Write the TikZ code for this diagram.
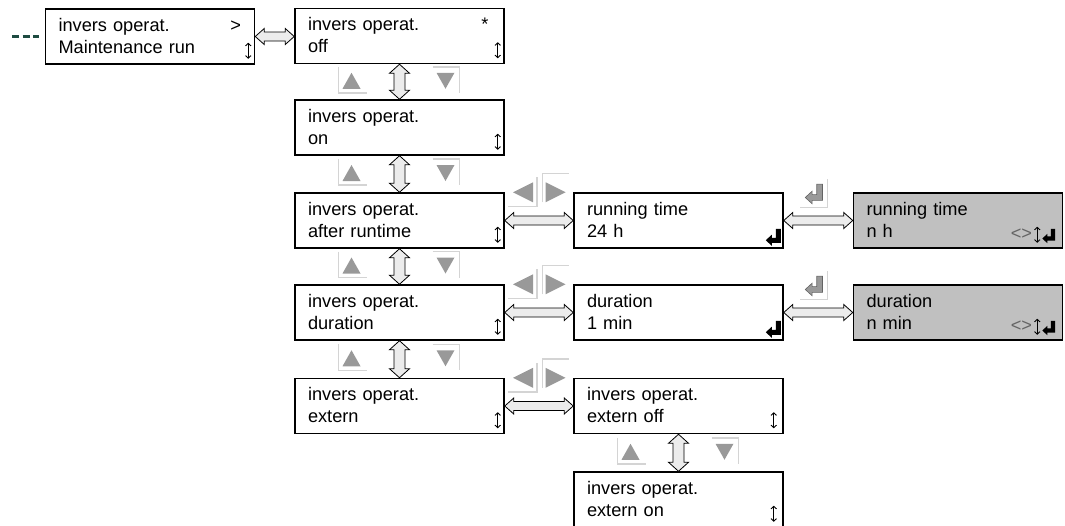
\documentclass[tikz,border=0pt]{standalone}
\usepackage{fontspec}
\setmainfont{Liberation Sans}
\usepackage{tikz}
\usetikzlibrary{calc,arrows.meta}
\definecolor{lcdGray}{RGB}{192,192,192}
\definecolor{keyGray}{RGB}{153,153,153}
\definecolor{keyEdge}{RGB}{212,212,212}
\definecolor{linkFill}{RGB}{236,236,236}
\definecolor{dashTeal}{RGB}{30,75,65}
\definecolor{markGray}{RGB}{100,100,100}
\newcommand{\lcdfont}{\fontsize{18.2}{22}\selectfont}
\newcommand{\lcdstrut}{\vrule height 16.5pt depth 5.5pt width 0pt}
\newcommand{\lcdlines}[2]{\lcdstrut#1\\\lcdstrut#2}
\newcommand{\hlink}[2]{%
    \draw[link] let \p1=(#1.east), \p2=(#2.west) in
        (\x1,\y1) -- (\x1+9pt,\y1+8pt) -- (\x1+9pt,\y1+4.5pt) -- (\x2-9pt,\y1+4.5pt) -- (\x2-9pt,\y1+8pt) -- (\x2,\y1)
        -- (\x2-9pt,\y1-8pt) -- (\x2-9pt,\y1-4.5pt) -- (\x1+9pt,\y1-4.5pt) -- (\x1+9pt,\y1-8pt) -- cycle;}
\newcommand{\vlink}[2]{%
    \draw[link] let \p1=(#1.south), \p2=(#2.north) in
        (\x1,\y1) -- (\x1+10pt,\y1-9pt) -- (\x1+5.5pt,\y1-9pt) -- (\x1+5.5pt,\y2+9pt) -- (\x1+10pt,\y2+9pt) -- (\x1,\y2)
        -- (\x1-10pt,\y2+9pt) -- (\x1-5.5pt,\y2+9pt) -- (\x1-5.5pt,\y1-9pt) -- (\x1-10pt,\y1-9pt) -- cycle;}
\newcommand{\scrollmark}[2]{\draw[scroll] ($(#1.south east)+(#2,-6)$) -- ($(#1.south east)+(#2,-22)$);}

\begin{document}
\begin{tikzpicture}[x=1pt,y=-1pt,
    lcd/.style={draw, line width=1.5pt, minimum width=209pt, minimum height=55pt, text width=183pt,
        inner xsep=13pt, inner ysep=0pt, align=left, font=\lcdfont},
    lcdedit/.style={lcd, fill=lcdGray},
    link/.style={draw=black, fill=linkFill, line width=0.8pt},
    scroll/.style={line width=0.9pt, {Straight Barb[length=2.5pt,width=5.5pt]}-{Straight Barb[length=2.5pt,width=5.5pt]}},
    lcdmark/.style={font=\lcdfont, inner sep=0pt, anchor=base east},
    keyedge/.style={draw=keyEdge, line width=1.5pt},
    keytri/.style={fill=keyGray},
    enterglyph/.pic={
        \path[pic actions] (10,0) -- (15,0) -- (15,14) -- (6,14) -- (6,17) -- (0,11.5) -- (6,6) -- (6,9) -- (10,9) -- cycle;
    },
    updownkeys/.pic={
        \draw[keyedge] (-61,-15) -- (-61,11) -- (-33,11);
        \fill[keytri] (-48,-9) -- (-39,7) -- (-57,7) -- cycle;
        \draw[keyedge] (33,-15) -- (60,-15) -- (60,11);
        \fill[keytri] (37,-9) -- (55,-9) -- (46,7) -- cycle;
    },
    leftrightkeys/.pic={
        \draw[keyedge] (-31,14) -- (-2,14) -- (-2,-15);
        \fill[keytri] (-26,0) -- (-6,-10) -- (-6,10) -- cycle;
        \draw[keyedge] (3.5,10) -- (3.5,-19) -- (29.5,-19);
        \fill[keytri] (26.5,0) -- (6.5,-10) -- (6.5,10) -- cycle;
    },
    enterkey/.pic={
        \draw[keyedge] (-18,15) -- (9,15) -- (9,-13);
        \pic[fill=keyGray, draw=markGray, line width=0.6pt, scale=1.15] at (-13,-8) {enterglyph};
    }]
    \useasboundingbox (0,0) rectangle (1065,525);

    \node[lcd] (maint) at (150,36.5) {\lcdlines{invers operat.}{Maintenance run}};
    \node[lcd] (off) at (399.5,36) {\lcdlines{invers operat.}{off}};
    \node[lcd] (on) at (399.5,127.5) {\lcdlines{invers operat.}{on}};
    \node[lcd] (after) at (399.5,220.5) {\lcdlines{invers operat.}{after runtime}};
    \node[lcd] (dur) at (399.5,312.5) {\lcdlines{invers operat.}{duration}};
    \node[lcd] (ext) at (399.5,406) {\lcdlines{invers operat.}{extern}};
    \node[lcd] (run) at (678.5,220.5) {\lcdlines{running time}{24 h}};
    \node[lcd] (durval) at (678.5,312.5) {\lcdlines{duration}{1 min}};
    \node[lcd] (extoff) at (678.5,406) {\lcdlines{invers operat.}{extern off}};
    \node[lcd] (exton) at (678.5,499.5) {\lcdlines{invers operat.}{extern on}};
    \node[lcdedit] (runedit) at (958,220.5) {\lcdlines{running time}{n h}};
    \node[lcdedit] (duredit) at (958,312.5) {\lcdlines{duration}{n min}};

    \coordinate (lead) at (12,36.5);
    \draw[dashTeal, line width=2.8pt, dash pattern=on 7pt off 3.5pt, shorten >=6pt] (lead) -- (maint.west);

    \hlink{maint}{off}
    \hlink{after}{run}
    \hlink{dur}{durval}
    \hlink{ext}{extoff}
    \hlink{run}{runedit}
    \hlink{durval}{duredit}
    \vlink{off}{on}
    \vlink{on}{after}
    \vlink{after}{dur}
    \vlink{dur}{ext}
    \vlink{extoff}{exton}

    \pic at ($(off.south)!0.5!(on.north)$) {updownkeys};
    \pic at ($(on.south)!0.5!(after.north)$) {updownkeys};
    \pic at ($(after.south)!0.5!(dur.north)$) {updownkeys};
    \pic at ($(dur.south)!0.5!(ext.north)$) {updownkeys};
    \pic at ($(extoff.south)!0.5!(exton.north)$) {updownkeys};
    \pic at ($(after.north east)!0.5!(run.north west)$) {leftrightkeys};
    \pic at ($(dur.north east)!0.5!(durval.north west)$) {leftrightkeys};
    \pic at ($(ext.north east)!0.5!(extoff.north west)$) {leftrightkeys};
    \pic at ($(run.north east)!0.5!(runedit.north west)$) {enterkey};
    \pic at ($(durval.north east)!0.5!(duredit.north west)$) {enterkey};

    \node[lcdmark] (maintnext) at ($(maint.north east)+(-14,23)$) {>};
    \node[lcdmark] (offstar) at ($(off.north east)+(-16,23)$) {*};
    \scrollmark{maint}{-7}
    \scrollmark{off}{-7}
    \scrollmark{on}{-7}
    \scrollmark{after}{-7}
    \scrollmark{dur}{-7}
    \scrollmark{ext}{-7}
    \scrollmark{extoff}{-10}
    \scrollmark{exton}{-10}
    \pic[fill=black] at ($(run.south east)+(-18,-20)$) {enterglyph};
    \pic[fill=black] at ($(durval.south east)+(-18,-20)$) {enterglyph};

    \node[lcdmark, text=markGray] (runshift) at ($(runedit.south east)+(-31,-9)$) {<>};
    \scrollmark{runedit}{-26}
    \pic[fill=black, scale=0.85] at ($(runedit.south east)+(-21,-20)$) {enterglyph};
    \node[lcdmark, text=markGray] (durshift) at ($(duredit.south east)+(-31,-9)$) {<>};
    \scrollmark{duredit}{-26}
    \pic[fill=black, scale=0.85] at ($(duredit.south east)+(-21,-20)$) {enterglyph};
\end{tikzpicture}
\end{document}
